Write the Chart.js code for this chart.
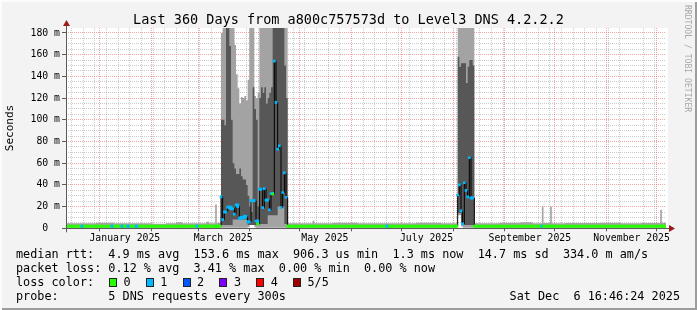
<!DOCTYPE html>
<html>
<head>
<meta charset="utf-8">
<script src="https://cdn.jsdelivr.net/npm/chart.js@4.4.1/dist/chart.umd.min.js"></script>
<style>
  html, body { margin: 0; padding: 0; background: #f3f3f3; }
  #frame {
    position: relative; width: 697px; height: 310px; overflow: hidden;
    background: #f3f3f3;
    box-shadow: inset 2px 2px 0 #fcfcfc, inset -2px -2px 0 #9c9c9c;
  }
  #frame canvas { position: absolute; left: 0; top: 0; }
  .txt {
    position: absolute; font-family: "DejaVu Sans Mono", monospace;
    color: #000; white-space: pre; font-size: 11.8px; line-height: 14px;
  }
  .box { position: absolute; width: 8px; height: 9px; box-sizing: border-box; border: 1px solid #222; }
</style>
</head>
<body>
<div id="frame">
  <canvas id="chart-smoke" width="697" height="310"></canvas>
  <div class="txt" style="left:0;top:11px;width:697px;text-align:center;font-size:13.5px;line-height:16px">Last 360 Days from a800c757573d to Level3 DNS 4.2.2.2</div>
  <div class="txt" style="left:-30px;top:121px;width:80px;text-align:center;font-size:11px;transform:rotate(-90deg)">Seconds</div>
  <div class="txt" style="left:683px;top:5px;font-size:8.1px;line-height:10px;color:#a8a8a8;writing-mode:vertical-rl">RRDTOOL / TOBI OETIKER</div>
  <div class="txt" style="left:16px;top:247px">median rtt:  4.9 ms avg  153.6 ms max  906.3 us min  1.3 ms now  14.7 ms sd  334.0 m am/s</div>
  <div class="txt" style="left:16px;top:261px">packet loss: 0.12 % avg  3.41 % max  0.00 % min  0.00 % now</div>
  <div class="txt" style="left:16px;top:275px">loss color:</div>
  <div class="txt" style="left:16px;top:289px">probe:       5 DNS requests every 300s</div>
  <div class="txt" style="right:17px;top:289px">Sat Dec  6 16:46:24 2025</div>
</div>
<script>
// x = days since Thu Dec 11 2024 16:46:24 (graph start), 360 days wide
// each value holds from its day until the next listed day
const days = [
  0, 9.5, 11, 18, 27.5, 29, 33.5, 35, 37, 39, 42, 44, 52, 60, 66, 70, 78.5, 80, 84, 86, 89.5, 90.5, 92.5,
  93, 94, 95, 96, 97, 98, 99, 100, 101, 102, 103, 104, 105, 106, 107, 108, 109, 110, 111, 112,
  113, 114, 115, 116, 117, 118, 119, 120, 121, 122, 123, 124, 125, 126, 127, 128, 129, 130, 131, 132,
  133, 148, 149, 160, 175, 192.5, 194, 210, 225, 234.5,
  235, 236, 237, 238, 239, 240, 241, 242, 243, 244,
  245, 260, 273, 280, 285.5, 286.5, 290.5, 291.5, 300, 321, 333, 345, 356.5, 357.5, 360
];
// smoke envelope, milliseconds
const smokeMax = [
  4.6, 4.6, 4.6, 5.0, 5.0, 4.6, 4.6, 4.6, 4.6, 4.6, 4.6, 4.6, 4.2, 4.6, 5.5, 4.6, 4.6, 4.6, 6.0, 4.6, 22, 5.0, 4.8,
  180, 185, 185, 185, 185, 185, 185, 185, 169, 142, 129, 115, 121, 120, 122, 118, 137, 185, 185, 185,
  122, 120, 125, 185, 185, 185, 185, 185, 185, 185, 185, 185, 185, 185, 185, 185, 185, 185, 185, 185,
  4.6, 7.0, 4.6, 5.0, 4.6, 4.6, 4.6, 5.0, 4.6, 4.6,
  185, 185, 185, 185, 185, 185, 185, 185, 185, 185,
  4.6, 5.0, 5.5, 4.6, 20, 4.8, 20, 4.6, 4.8, 5.2, 4.6, 4.8, 17, 5.0, 5.0
];
const smokeHi = [
  2.6, 2.6, 2.6, 2.6, 2.6, 2.6, 2.6, 2.6, 2.6, 2.6, 2.6, 2.6, 2.6, 2.6, 2.6, 2.6, 2.6, 2.6, 2.6, 2.6, 2.6, 2.6, 2.6,
  100, 100, 95, 185, 185, 168, 100, 60, 55, 50, 50, 55, 48, 45, 45, 40, 30, 20, 15, 130,
  110, 100, 20, 120, 130, 125, 130, 115, 120, 125, 130, 185, 185, 185, 185, 185, 185, 185, 150, 120,
  2.6, 2.6, 2.6, 2.6, 2.6, 2.6, 2.6, 2.6, 2.6, 2.6,
  158, 149, 152, 152, 152, 134, 149, 155, 155, 150,
  2.6, 2.6, 2.6, 2.6, 2.6, 2.6, 2.6, 2.6, 2.6, 2.6, 2.6, 2.6, 2.6, 2.6, 2.6
];
const smokeLo = [
  1.2, 1.2, 1.2, 1.2, 1.2, 1.2, 1.2, 1.2, 1.2, 1.2, 1.2, 1.2, 1.2, 1.2, 1.2, 1.2, 1.2, 1.2, 1.2, 1.2, 1.2, 1.2, 1.2,
  3, 3, 3, 3, 3, 3, 3, 8, 8, 8, 8, 8, 8, 8, 8, 8, 3, 3, 3, 3,
  3, 3, 3, 4, 4, 4, 4, 4, 12, 12, 12, 12, 12, 12, 20, 20, 20, 20, 4, 4,
  1.2, 1.2, 1.2, 1.2, 1.2, 1.2, 1.2, 1.2, 1.2, 1.2,
  14, 14, 5, 3, 3, 3, 3, 3, 3, 3,
  1.2, 1.2, 1.2, 1.2, 1.2, 1.2, 1.2, 1.2, 1.2, 1.2, 1.2, 1.2, 1.2, 1.2, 1.2
];
const smokeMin = [
  0.6, 0.6, 0.6, 0.6, 0.6, 0.6, 0.6, 0.6, 0.6, 0.6, 0.6, 0.6, 0.6, 0.6, 0.6, 0.6, 0.6, 0.6, 0.6, 0.6, 0.6, 0.6, 0.6,
  0.5, 0.5, 0.5, 0.5, 0.5, 0.5, 0.5, 0.5, 0.5, 0.5, 0.5, 0.5, 0.5, 0.5, 0.5, 0.5, 1, 3, 3, 3,
  1, 0.5, 0.5, 0.5, 0.5, 0.5, 0.5, 0.5, 0.5, 0.5, 0.5, 0.5, 0.5, 0.5, 0.5, 0.5, 0.5, 0.5, 0.5, 0.5,
  0.6, 0.6, 0.6, 0.6, 0.6, 0.6, 0.6, 0.6, 0.6, 0.6,
  12, 12, 2, 0.5, 0.5, 0.5, 0.5, 0.5, 0.5, 0.5,
  0.6, 0.6, 0.6, 0.6, 0.6, 0.6, 0.6, 0.6, 0.6, 0.6, 0.6, 0.6, 0.6, 0.6, 0.6
];
const median = [
  2, 2, 2, 2, 2, 2, 2, 2, 2, 2, 2, 2, 2, 2, 2, 2, 2, 2, 2, 2, 2, 2, 2,
  29, 8, 15, 15, 19.5, 19.5, 18, 18, 13, 21.5, 20, 9, 10, 10, 11, 11, 6, 6, 25.5, 25.5,
  25.5, 6.7, 4, 36, 36, 19, 36.5, 26, 26, 17, 32, 31.6, 154, 116, 73, 76, 19, 33, 51, 28.6,
  2, 2, 2, 2, 2, 2, 2, 2, 2, 2,
  30.7, 40, 16, 4, 42, 35, 29, 65, 28, 28,
  2, 2, 2, 2, 2, 2, 2, 2, 2, 2, 2, 2, 2, 2, 2
];
// lost pings out of 5
const loss = [
  0, 1, 0, 0, 1, 0, 1, 0, 1, 0, 1, 0, 0, 0, 0, 0, 1, 0, 0, 0, 0, 0, 0,
  1, 1, 1, 1, 1, 1, 1, 1, 1, 1, 1, 1, 1, 1, 1, 1, 1, 1, 1, 1,
  1, 1, 0, 1, 1, 1, 1, 1, 1, 1, 1, 0, 1, 1, 1, 1, 1, 1, 1, 1,
  0, 0, 0, 0, 0, 1, 0, 0, 0, 0,
  1, 1, 1, 1, 1, 1, 1, 1, 1, 1,
  0, 0, 0, 0, 1, 0, 0, 0, 0, 0, 0, 0, 0, 0, 0
];

const lossLabels = ['0', '1', '2', '3', '4', '5/5'];
const lossColors = ['#26ff00', '#00b8ff', '#0059ff', '#7e00ff', '#ff0000', '#a00000'];

const monthStarts = [20.3, 51.3, 79.3, 110.3, 140.3, 171.3, 201.3, 232.3, 263.3, 293.3, 324.3, 354.3];
const monthLabelDays = [35.3, 94.3, 155.3, 216.3, 278.3, 339.3];
const monthLabels = ['January 2025', 'March 2025', 'May 2025', 'July 2025', 'September 2025', 'November 2025'];
const yTicks = [0, 5, 10, 15, 20, 25, 30, 35, 40, 45, 50, 55, 60, 65, 70, 75, 80, 85, 90,
  95, 100, 105, 110, 115, 120, 125, 130, 135, 140, 145, 150, 155, 160, 165, 170, 175, 180];

// loss colour legend row
const frame = document.getElementById('frame');
lossLabels.forEach((lab, i) => {
  const left = 109 + i * 36.8;
  const b = document.createElement('div');
  b.className = 'box';
  b.style.left = left + 'px';
  b.style.top = '278px';
  b.style.background = lossColors[i];
  frame.appendChild(b);
  const t = document.createElement('div');
  t.className = 'txt';
  t.style.left = (left + 14.5) + 'px';
  t.style.top = '275px';
  t.textContent = lab;
  frame.appendChild(t);
});

// weekly minor grid (Sundays), monthly major grid, labels centred mid-month
const tickKind = new Map();
for (let d = 3.3; d < 360; d += 7) tickKind.set(+d.toFixed(2), 'week');
monthStarts.forEach(d => tickKind.set(d, 'month'));
monthLabelDays.forEach((d, i) => tickKind.set(d, 'label:' + monthLabels[i]));
const xTicks = [...tickKind.keys()].sort((a, b) => a - b);

const MINOR = 'rgba(140,140,140,0.45)';
const MAJOR = 'rgba(235,90,90,0.55)';
const NONE = 'rgba(0,0,0,0)';
const monoFont = { family: 'DejaVu Sans Mono', size: 9.8 };

const pts = arr => days.map((d, i) => ({ x: d, y: arr[i] }));

const rrdFrame = {
  id: 'rrdFrame',
  beforeDraw(chart) {
    const { ctx, chartArea: a } = chart;
    ctx.save();
    ctx.fillStyle = '#ffffff';
    ctx.fillRect(a.left, a.top, a.right - a.left + 2, a.bottom - a.top);
    ctx.restore();
  },
  afterDatasetsDraw(chart) {
    const { ctx, chartArea: a } = chart;
    const yb = Math.round(a.bottom) + 0.5;
    const xl = Math.round(a.left) + 0.5;
    ctx.save();
    ctx.strokeStyle = '#5a5a5a';
    ctx.lineWidth = 1;
    ctx.beginPath();
    ctx.moveTo(a.left - 4, yb);
    ctx.lineTo(a.right + 4, yb);
    ctx.moveTo(xl, a.bottom + 4);
    ctx.lineTo(xl, a.top - 3);
    ctx.stroke();
    ctx.fillStyle = '#9b1b1b';
    ctx.beginPath();
    ctx.moveTo(a.right + 3, yb - 3.5);
    ctx.lineTo(a.right + 9, yb);
    ctx.lineTo(a.right + 3, yb + 3.5);
    ctx.fill();
    ctx.beginPath();
    ctx.moveTo(xl - 3.5, a.top - 2);
    ctx.lineTo(xl, a.top - 8);
    ctx.lineTo(xl + 3.5, a.top - 2);
    ctx.fill();
    ctx.restore();
  }
};

const chartSmoke = new Chart(document.getElementById('chart-smoke'), {
  type: 'line',
  data: {
    datasets: [
      {
        // median coloured by packet loss
        data: pts(median),
        order: 0,
        stepped: 'before',
        borderWidth: 3,
        borderColor: lossColors[0],
        segment: {
          borderColor: c => Math.abs(c.p0.y - c.p1.y) > 3 ? NONE : lossColors[loss[c.p0DataIndex]]
        },
        pointStyle: 'rect',
        pointRadius: 1.9,
        pointBorderWidth: 0,
        pointBackgroundColor: c => lossColors[loss[c.dataIndex]],
        fill: false
      },
      {
        data: pts(median),
        order: 1,
        stepped: 'before',
        borderWidth: 1,
        borderColor: '#000000',
        pointRadius: 0,
        fill: false
      },
      {
        data: pts(smokeHi),
        order: 2,
        stepped: 'before',
        borderWidth: 0,
        pointRadius: 0,
        backgroundColor: '#575757',
        fill: '+1'
      },
      {
        data: pts(smokeLo),
        order: 3,
        stepped: 'before',
        borderWidth: 0,
        pointRadius: 0,
        fill: false
      },
      {
        data: pts(smokeMax),
        order: 4,
        stepped: 'before',
        borderWidth: 0,
        pointRadius: 0,
        backgroundColor: '#a3a3a3',
        fill: '+1'
      },
      {
        data: pts(smokeMin),
        order: 5,
        stepped: 'before',
        borderWidth: 0,
        pointRadius: 0,
        fill: false
      }
    ]
  },
  options: {
    responsive: false,
    animation: false,
    devicePixelRatio: 1,
    layout: { padding: { top: 28, right: 31, bottom: 61.7, left: 0 } },
    plugins: {
      legend: { display: false },
      tooltip: { enabled: false },
      title: { display: false }
    },
    scales: {
      x: {
        type: 'linear',
        min: 0,
        max: 360,
        afterFit: s => { s.height = 20; },
        afterBuildTicks: s => { s.ticks = xTicks.map(v => ({ value: v })); },
        grid: {
          color: c => {
            const k = c.tick ? tickKind.get(c.tick.value) : '';
            return k === 'month' ? MAJOR : (k === 'week' ? MINOR : NONE);
          },
          tickLength: 3,
          tickColor: c => (c.tick && tickKind.get(c.tick.value) === 'month') ? '#5a5a5a' : NONE
        },
        border: { display: false, dash: [1, 1] },
        ticks: {
          autoSkip: false,
          maxRotation: 0,
          minRotation: 0,
          padding: 1,
          color: '#000',
          font: monoFont,
          callback: v => {
            const k = tickKind.get(v) || '';
            return k.startsWith('label:') ? k.slice(6) : '';
          }
        }
      },
      y: {
        type: 'linear',
        min: 0,
        max: 184.6,
        afterFit: s => { s.width = 66; },
        afterBuildTicks: s => { s.ticks = yTicks.map(v => ({ value: v })); },
        grid: {
          color: c => (c.tick && c.tick.value % 20 === 0) ? MAJOR : MINOR,
          tickLength: 4,
          tickColor: c => (c.tick && c.tick.value % 20 === 0) ? '#5a5a5a' : NONE
        },
        border: { display: false, dash: [1, 1] },
        ticks: {
          autoSkip: false,
          padding: 2,
          color: '#000',
          font: monoFont,
          callback: v => v % 20 !== 0 ? '' : (v === 0 ? '0  ' : v + ' m')
        }
      }
    }
  },
  plugins: [rrdFrame]
});
</script>
</body>
</html>
